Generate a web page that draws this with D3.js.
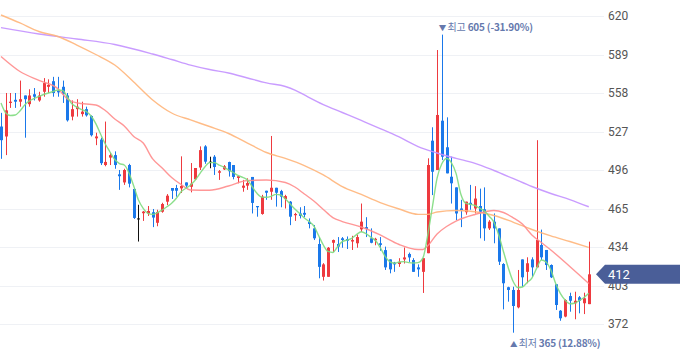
<!DOCTYPE html>
<html><head><meta charset="utf-8">
<script src="https://cdn.jsdelivr.net/npm/d3@7/dist/d3.min.js"></script>
<style>html,body{margin:0;padding:0;background:#fff;}svg{display:block;}</style>
</head><body>
<svg id="chart" width="680" height="358"></svg>
<script>
const yTicks = [620, 589, 558, 527, 496, 465, 434, 403, 372];
const opens = [531,523,550,552.5,551,556,549,557,552,559,563,567.5,560,563,556,539,545,541,545,539.5,521.5,520.5,500,506,508,492.5,486,500,480.7,457,461.2,461,462,453.5,462.4,470.5,481.5,481.5,481.2,486,482.5,488.5,498,515,502.7,506.7,493.8,496.5,502.4,500,489.6,481.7,483.4,490.4,467,460.6,479.3,478.5,481.7,479,472.6,470.5,459.6,461,461.5,454.3,449,436.4,410,410,437.4,436.4,441,440.4,438.4,437,448.2,450,441,439.4,437,431.5,424,421.4,420.3,424,428.4,423.5,417.6,414,429,519.6,496,535.7,514.3,490.6,482,465,462,469.6,465,467,464.4,449,454.4,449,420.3,401.6,399.4,385.4,424,414,424,417.6,435.6,431.6,419.5,404,382.7,378,394.5,388.7,393.5,388.7,388];
const highs = [542,558,558,558,568,556,561,562,559,570,569,571,571,568,558,552,553,551,547,540,526,522,535,510,511,496,497,501,481.5,468,463,467,464.6,464,469.6,476.6,481.5,484,507,486,501.6,497.6,515,516,506.7,508,496,500,502.7,500,491,488,489.3,490.4,467,476,479.3,523.4,481.7,480,476,471,461.5,466,467,457,451.7,442,421,434,440,442,442,442.5,443,444,469,458,449,441.4,442,434.3,424,422,425,433.6,429.5,425,420,425,505.4,530.4,592.6,605,538.4,506.7,482,472,470.5,484,483,481,482,455.7,461,449,421,402,402,415.5,424,425.7,425.7,520,448,431.6,420,404,383.2,391.9,397.2,398,394.5,397.2,438.3];
const lows = [505,508,546,546,547,522,547,552,551,555,558,555,555,550,535,536,539,539,539,523,516,500,499,500,497,480,484,482,456.6,438.4,455,459,450,450.7,461.6,467.8,472.7,474.5,477.5,481.5,478,488,496,501,497.4,492,488,496,490.7,488.5,485.3,478.5,480,461,458.4,460,472,472,466.5,466,465,451.6,455,457,458,449,439.6,408.8,407,410,430,430,433.4,432.4,431.6,433.4,446,442,437,435.4,431,415.5,412.8,414,418,420.7,422,414,410,397,429,475.8,496,504,493.3,469,455.7,450,460,464,461,441,439,447.7,437,419.5,383.8,390,365,384.6,402,404.8,410,417.6,423.5,415.5,409,383.3,374.6,377.4,381.9,375.8,380.6,380,388];
const closes = [520,544,551,551,553,553,556,555,556,566,564.5,558,558.5,557,536,545,547,543,540,524,523,501.5,502.5,508,500,491,496,485,457.4,457,462.5,463,457.7,462.2,468.6,475.3,479.3,479.3,483.2,483.4,485,497.6,512,502.7,502.7,498.4,495,499,495,490.4,491,483.4,485.5,469.5,466,474.5,477.7,481.7,477.7,474.5,475,458.4,460.6,459,460,452.5,441,418,420,433.4,439.6,434.3,439.6,439,439.6,442,454.4,448.5,437.4,440.6,435.7,417.6,416,420,422,425.6,425.6,414,416,425,500,494.6,540.3,506.7,493.3,485.3,461,463.7,470.5,468,473,462.4,449,454.4,449,422.2,404.8,399.4,386.5,399.4,409.6,420.9,417.6,439.6,425.7,419.5,409.6,387.3,376.6,391.3,390.7,390.7,390.7,392.7,412];

// moving averages: [candle index, value]
const ma5 = [549.9,541.9,539.9,540.3,543.5,548.3,551.6,553.6,555.2,556.8,558,559.2,560.4,560,554.8,549.1,546.7,544.7,543.1,539.5,533.4,525,516.9,510.5,504.4,501.2,500,493.6,483.1,471.8,465.1,461.1,460.3,461.6,463.8,466.4,469.2,473.2,478.5,481.3,484,488,493.3,498.4,501.9,501.9,500,498.4,496,494,491.6,490.1,488,482.5,477.2,474.2,474,474.8,476.4,475.9,472.6,468.6,464.6,461,457.4,454.5,450.9,443.3,435.6,430.4,429.6,434.2,438.3,439.6,441,444,446.3,444.8,442,439.2,433.6,426.7,422.2,420.9,421.9,422.2,421.4,421.1,421.4,425,443,466,489.5,501,505.3,502,493.3,476.7,469.4,468.4,467.4,465.2,463,458.7,453.9,443.6,430.4,417.5,406.6,401.4,401.8,405.4,409,416.8,423.5,421.9,415.5,404.8,396.7,391.3,388.3,388.7,390.9,393.3,396.7];
const ma20 = [[0,587.4],[4,575.3],[8,568.1],[12,561.5],[14,553.2],[16,550],[20,548.3],[22,543.9],[24,537.1],[26,531.4],[28,523],[30,517.7],[32,504.9],[34,497.6],[36,490],[38,484.3],[40,479.9],[44,479.7],[48,483.1],[52,487.5],[56,487.9],[60,485.9],[62,482.3],[64,476.7],[66,471],[68,464.2],[70,457.7],[72,454.5],[76,450.1],[80,443.7],[84,436],[88,432],[89,432],[90,434.8],[92,444.5],[94,450.5],[96,454.9],[100,460.2],[104,463.4],[106,461.8],[108,457.7],[110,452.5],[112,443.7],[114,437.6],[116,431.6],[120,418.3],[124,404.6]];
const ma60 = [[0,620.8],[4,614.4],[8,607.5],[12,603.5],[16,596.6],[20,589],[24,580.5],[28,566.9],[32,552.4],[36,541.9],[40,536.3],[44,531],[48,525.4],[52,517.7],[56,510.1],[60,505.3],[64,499.6],[68,492],[72,482.7],[76,476.3],[80,469.8],[84,464.6],[88,460.3],[90,460.3],[92,462.2],[96,463.4],[100,462.4],[104,459.4],[108,454.1],[112,448.1],[116,442.9],[120,438.4],[124,433.6]];
const ma120 = [[0,610.6],[8,605.5],[16,601.5],[24,597.1],[32,589.4],[36,585],[40,580.5],[44,576.9],[48,574.1],[52,570.1],[56,566.1],[60,563.2],[62,560.4],[64,556.4],[68,548.7],[72,542.3],[76,535.9],[80,529.4],[84,522.6],[88,514.9],[92,509.7],[96,505.4],[100,501.4],[104,495.6],[108,489.2],[112,482.7],[116,477.1],[120,472.2],[124,466.4]];

const currentPrice = 412;
const highInfo = {idx: 93, label: "최고", value: 605, pct: "(-31.90%)"};
const lowInfo = {idx: 108, label: "최저", value: 365, pct: "(12.88%)"};

const svg = d3.select("#chart");
const n = closes.length;
const idx = d3.range(n);
const x = d3.scaleBand().domain(idx).range([-1.37, -1.37 + n * 4.74]).paddingInner(0.4).paddingOuter(0.2);
const cx = i => x(i) + x.bandwidth() / 2;
const y = d3.scaleLinear().domain([372, 620]).range([324, 16]);

// grid
svg.append("g").selectAll("line").data(yTicks).join("line")
  .attr("x1", 0).attr("x2", 604)
  .attr("y1", d => Math.round(y(d)) + 0.5).attr("y2", d => Math.round(y(d)) + 0.5)
  .attr("stroke", "#eff1f5").attr("stroke-width", 1);

const RED = "#ee3a3f", BLUE = "#1a78ea", BLACK = "#111";
const col = i => closes[i] > opens[i] ? RED : (closes[i] < opens[i] ? BLUE : BLACK);

const cg = svg.append("g");
idx.forEach(i => {
  const c = Math.round(cx(i));
  const g = cg.append("g");
  g.append("line").attr("x1", c + 0.5).attr("x2", c + 0.5)
    .attr("y1", y(highs[i])).attr("y2", y(lows[i]))
    .attr("stroke", col(i)).attr("stroke-width", 1);
  const top = y(Math.max(opens[i], closes[i])), bot = y(Math.min(opens[i], closes[i]));
  g.append("rect").attr("x", c - 1).attr("width", 3)
    .attr("y", top).attr("height", Math.max(1, bot - top))
    .attr("fill", col(i));
});

// moving averages
const line = d3.line().x(d => cx(d[0])).y(d => y(d[1])).curve(d3.curveMonotoneX);
const maSeries = [
  {data: ma120, color: "#c391ff"},
  {data: ma60, color: "#ffb57a"},
  {data: ma20, color: "#ff8c8c"},
  {data: ma5.map((v, i) => [i, v]), color: "#7fdc7f"}
];
svg.append("g").selectAll("path").data(maSeries).join("path")
  .attr("d", d => line(d.data)).attr("fill", "none")
  .attr("stroke", d => d.color).attr("stroke-width", 1.4).attr("stroke-opacity", 0.9);

// right axis labels
svg.append("g").selectAll("text").data(yTicks).join("text")
  .attr("x", 608).attr("y", d => y(d)).attr("dy", "0.35em")
  .attr("font-family", "Roboto, 'Noto Sans', sans-serif").attr("font-size", 12)
  .attr("fill", "#555").text(d => d);

// current price tag
const py = y(currentPrice);
svg.append("path")
  .attr("d", `M596,${py} L605,${py - 9.5} L680,${py - 9.5} L680,${py + 9.5} L605,${py + 9.5} Z`)
  .attr("fill", "#4a5e98");
svg.append("text").attr("x", 608).attr("y", py).attr("dy", "0.36em")
  .attr("font-family", "Roboto, 'Noto Sans', sans-serif").attr("font-size", 13)
  .attr("fill", "#fff").text(currentPrice);

// high / low annotations
function annot(info, ypos, arrow) {
  const t = svg.append("text").attr("x", cx(info.idx) - 3).attr("y", ypos).attr("dy", "0.35em")
    .attr("font-family", "'Noto Sans CJK KR', 'Noto Sans', sans-serif").attr("font-size", 10)
    .attr("letter-spacing", -0.2).attr("fill", "#6579ad");
  t.append("tspan").attr("font-size", 7.5).text(arrow + " ");
  t.append("tspan").text(info.label + " ");
  t.append("tspan").attr("font-weight", "bold").text(info.value + " " + info.pct);
}
annot(highInfo, 27, "▼");
annot(lowInfo, 343, "▲");
</script>
</body></html>
